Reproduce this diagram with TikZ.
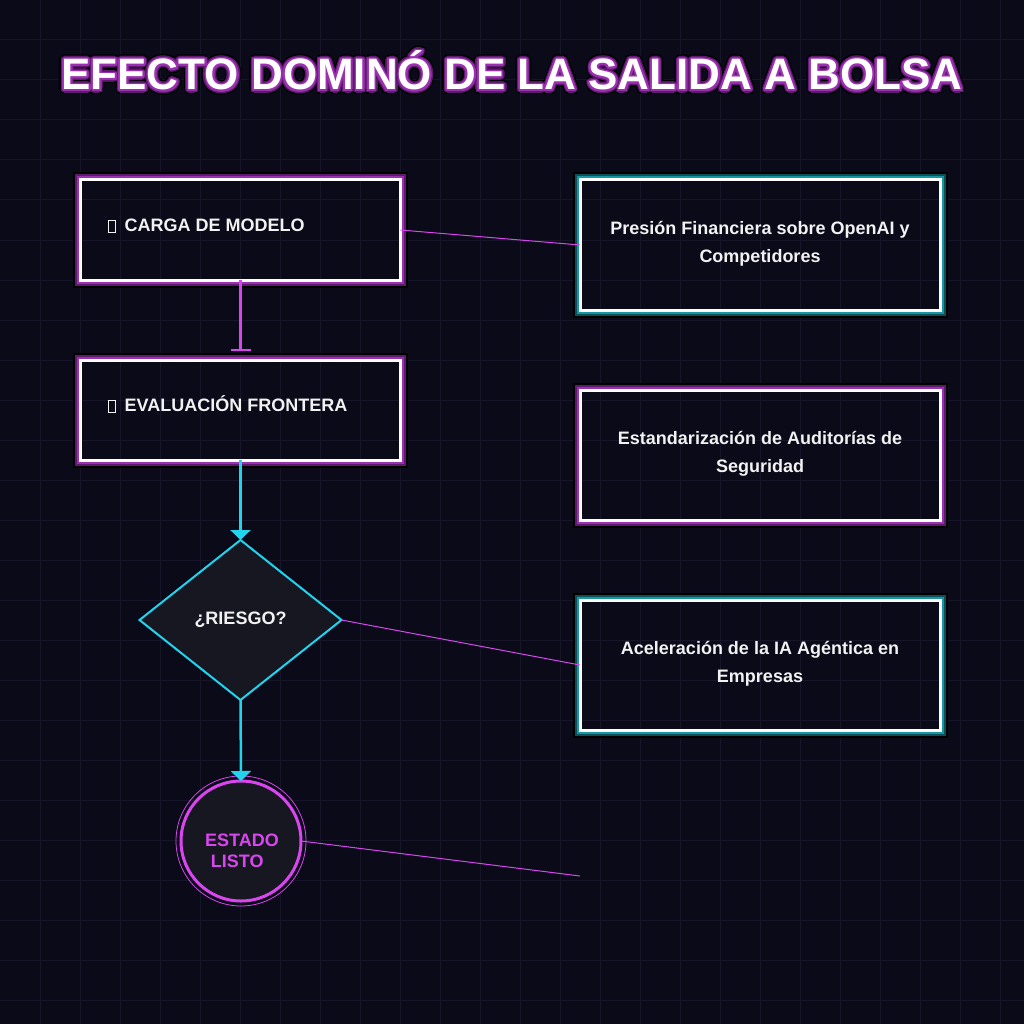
\documentclass[tikz,border=0pt]{standalone}
\usepackage{fontspec}
\setmainfont{Liberation Sans}
\usetikzlibrary{shapes.geometric,arrows.meta}
\definecolor{bg}{HTML}{0A0A19}
\definecolor{gridc}{HTML}{161628}
\definecolor{mag}{HTML}{D946EF}
\definecolor{cy}{HTML}{22D3EE}
\definecolor{nodefill}{HTML}{171722}
\definecolor{purA}{HTML}{9B30B0}
\definecolor{purB}{HTML}{5E1A6E}
\definecolor{tealA}{HTML}{1796A6}
\definecolor{tealB}{HTML}{0C5058}
\definecolor{txt}{HTML}{F2F2F2}
\newcommand{\tofu}{{\setlength{\fboxsep}{0pt}\setlength{\fboxrule}{0.8pt}\color{txt}\fbox{\rule{0pt}{10.6pt}\hspace{6.4pt}}}}
\newcommand{\glowframe}[3]{%
  \draw[black, line width=2pt] ([shift={(-6.5,6.5)}]#1.north west) rectangle ([shift={(6.5,-6.5)}]#1.south east);
  \draw[#3, line width=2pt] ([shift={(-4.5,4.5)}]#1.north west) rectangle ([shift={(4.5,-4.5)}]#1.south east);
  \draw[#2, line width=2pt] ([shift={(-2.5,2.5)}]#1.north west) rectangle ([shift={(2.5,-2.5)}]#1.south east);
}
\begin{document}
\begin{tikzpicture}[x=1pt,y=1pt,
  boxnode/.style={rectangle, draw=white, line width=3pt, inner sep=0pt, outer sep=0pt},
  lbl/.style={text=txt, font=\fontsize{18}{28}\selectfont\bfseries, inner sep=0pt},
  ttl/.style={font=\fontsize{44}{50}\selectfont\bfseries, inner sep=0pt, anchor=base},
  thinlink/.style={mag, line width=1pt},
  flowcy/.style={cy, line width=2.5pt, -{Triangle[width=20pt,length=10pt]}}
]
\fill[bg] (0,0) rectangle (1024,-1024);
\useasboundingbox (0,0) rectangle (1024,-1024);
\foreach \i in {40,80,...,1000} {
  \draw[gridc, line width=1pt] (\i,0) -- (\i,-1024);
  \draw[gridc, line width=1pt] (0,-\i) -- (1024,-\i);
}
% title
\foreach \a in {0,22.5,...,337.5} {
  \node[ttl, text=black] (tk\a) at ([shift={(\a:4.5)}]512,-90) {EFECTO DOMINÓ DE LA SALIDA A BOLSA};
}
\foreach \a in {0,22.5,...,337.5} {
  \node[ttl, text=purB] (tm\a) at ([shift={(\a:3.2)}]512,-90) {EFECTO DOMINÓ DE LA SALIDA A BOLSA};
}
\foreach \a in {0,22.5,...,337.5} {
  \node[ttl, text=purA] (tp\a) at ([shift={(\a:1.8)}]512,-90) {EFECTO DOMINÓ DE LA SALIDA A BOLSA};
}
\node[ttl, text=white] (title) at (512,-90) {EFECTO DOMINÓ DE LA SALIDA A BOLSA};

% boxes
\node[boxnode, minimum width=320pt, minimum height=100pt] (b1) at (240.5,-230) {};
\node[boxnode, minimum width=320pt, minimum height=100pt] (b2) at (240.5,-410) {};
\node[boxnode, minimum width=360pt, minimum height=130pt] (ba) at (760,-245) {};
\node[boxnode, minimum width=360pt, minimum height=130pt] (bb) at (760,-455) {};
\node[boxnode, minimum width=360pt, minimum height=130pt] (bc) at (760,-665) {};
\glowframe{b1}{purA}{purB}
\glowframe{b2}{purA}{purB}
\glowframe{ba}{tealA}{tealB}
\glowframe{bb}{purA}{purB}
\glowframe{bc}{tealA}{tealB}

\node[lbl, anchor=base west] (t1) at (107.5,-231.5) {\tofu\hspace{9pt}CARGA DE MODELO};
\node[lbl, anchor=base west] (t2) at (107.5,-411.5) {\tofu\hspace{9pt}EVALUACIÓN FRONTERA};
\node[lbl, anchor=base] (ta1) at (760,-234) {Presión Financiera sobre OpenAI y};
\node[lbl, anchor=base] (ta2) at (760,-262) {Competidores};
\node[lbl, anchor=base] (tb1) at (760,-444) {Estandarización de Auditorías de};
\node[lbl, anchor=base] (tb2) at (760,-472) {Seguridad};
\node[lbl, anchor=base] (tc1) at (760,-654) {Aceleración de la IA Agéntica en};
\node[lbl, anchor=base] (tc2) at (760,-682) {Empresas};

% diamond
\node[diamond, draw=cy, line width=2pt, fill=nodefill, inner sep=0pt, outer sep=0pt,
      minimum width=202pt, minimum height=160pt, lbl] (d) at (240.5,-620) {¿RIESGO?};

% circle
\node[circle, draw=mag, line width=3pt, fill=nodefill, minimum size=120pt, inner sep=0pt, outer sep=0pt] (st) at (241,-841) {};
\draw[mag, line width=0.8pt] (st.center) circle (65);
\node[lbl, text=mag, anchor=base west] (st1) at (205,-846.5) {ESTADO};
\node[lbl, text=mag, anchor=base west] (st2) at (210.7,-867.5) {LISTO};

% connectors
\draw[mag, line width=2.5pt, -{Bar[width=20pt,line width=2pt]}, shorten >=9pt] (b1.south) -- (b2.north);
\draw[flowcy] (b2.south) -- (d.north);
\draw[flowcy] (d.south) -- (st.north);
\coordinate (freeend) at (580,-876);
\draw[thinlink] (b1.east) -- (ba.west);
\draw[thinlink] (d.east) -- (bc.west);
\draw[thinlink] (st.east) -- (freeend);
\end{tikzpicture}
\end{document}
